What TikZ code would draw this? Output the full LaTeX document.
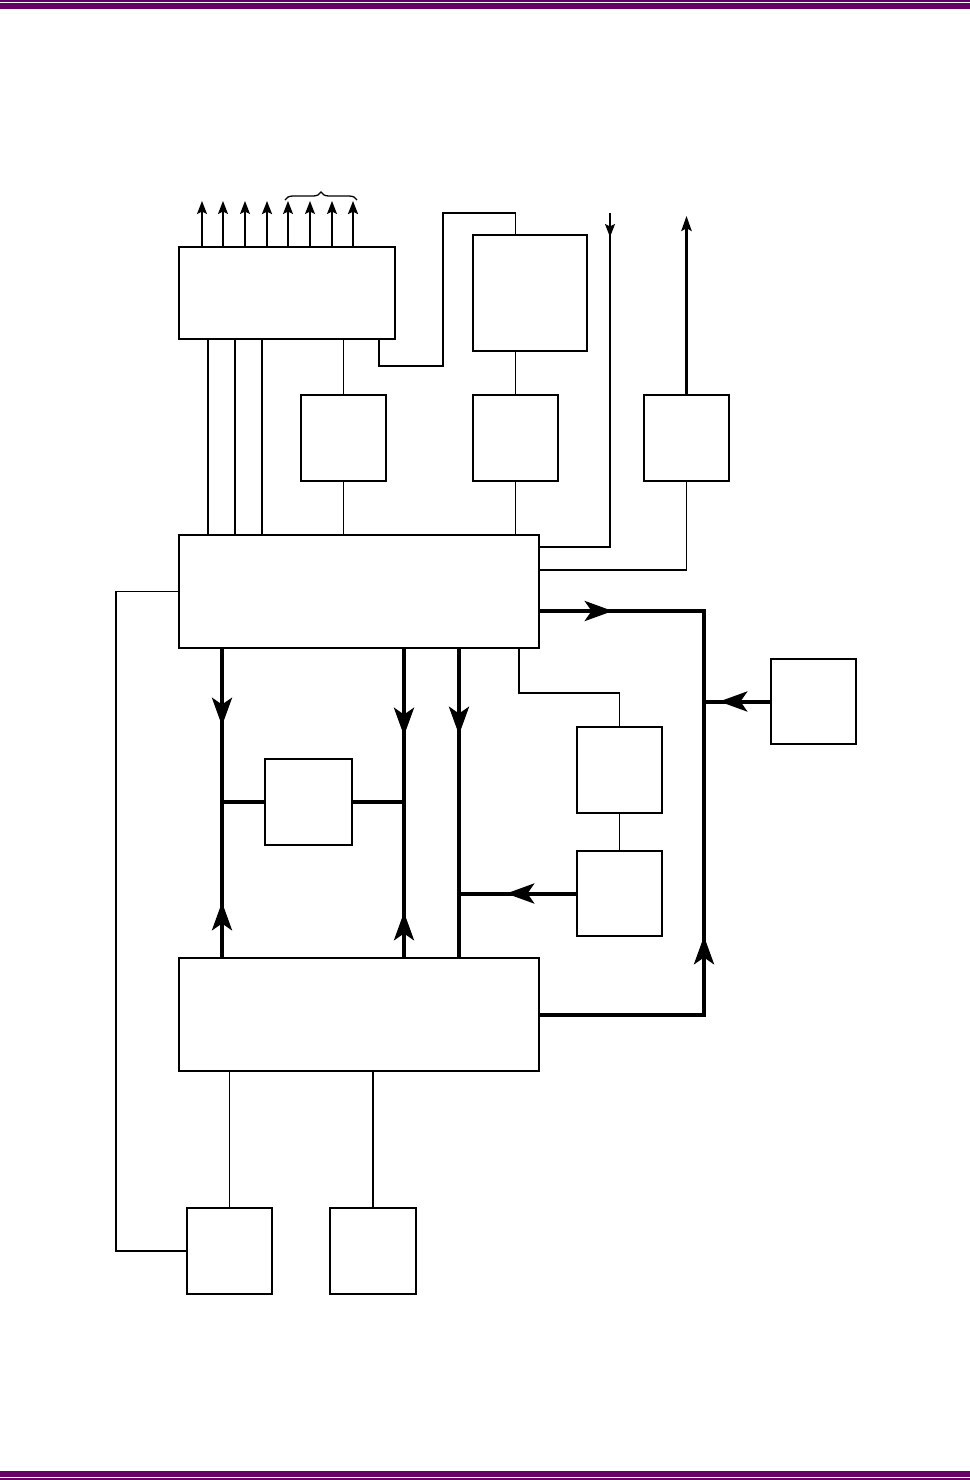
\documentclass[tikz,border=0pt]{standalone}
\usetikzlibrary{arrows.meta,decorations.markings,decorations.pathreplacing}
\definecolor{rulepurple}{RGB}{102,0,102}
\tikzset{
  sigtip/.tip={Stealth[length=6.5pt,width=5pt,inset=1.2pt]},
  bigtip/.tip={Stealth[length=7.5pt,width=5.2pt,inset=1.4pt]},
  bustip/.tip={Stealth[length=14pt,width=10pt,inset=3.4pt]}
}
\begin{document}
\begin{tikzpicture}[x=0.5pt,y=-0.5pt,
  blk/.style={draw,line width=0.75pt,inner sep=0pt},
  sig/.style={line width=0.65pt},
  bus/.style={line width=2pt},
  busarrow/.style={postaction={decorate},decoration={markings,mark=at position #1 with {\arrow{bustip}}}},
  sigarrow/.style={postaction={decorate},decoration={markings,mark=at position #1 with {\arrow{sigtip}}}}]
  \useasboundingbox (0,0) rectangle (970,1480);
  \fill[rulepurple] (0,0.3) rectangle (970,1.8); \fill[rulepurple] (0,3.3) rectangle (970,8.7);
  \fill[rulepurple] (0,1471) rectangle (970,1476.7); \fill[rulepurple] (0,1478) rectangle (970,1480);
  \node[blk,minimum width=108pt,minimum height=46pt] (A) at (287,293) {};
  \node[blk,minimum width=57pt,minimum height=58pt] (E) at (530,293) {};
  \node[blk,minimum width=42.5pt,minimum height=43pt] (C) at (343.5,438) {};
  \node[blk,minimum width=42.5pt,minimum height=43pt] (D) at (515.5,438) {};
  \node[blk,minimum width=42.5pt,minimum height=43pt] (F) at (686.5,438) {};
  \node[blk,minimum width=180pt,minimum height=56.5pt] (B) at (359,591.5) {};
  \node[blk,minimum width=42.5pt,minimum height=42.5pt] (G) at (813.5,701.5) {};
  \node[blk,minimum width=42.5pt,minimum height=43pt] (H) at (619.5,770) {};
  \node[blk,minimum width=42.5pt,minimum height=42.5pt] (K) at (619.5,893.5) {};
  \node[blk,minimum width=43.5pt,minimum height=43pt] (I) at (308.5,802) {};
  \node[blk,minimum width=180pt,minimum height=56.5pt] (J) at (359,1014.5) {};
  \node[blk,minimum width=42.5pt,minimum height=43pt] (L) at (229.5,1251) {};
  \node[blk,minimum width=43pt,minimum height=43pt] (M) at (373,1251) {};
  \foreach \x/\w [count=\i] in {202/0.7,223/0.7,245/0.7,267/1.1,288/0.7,310/0.7,332/0.7,353/1.1} {
    \coordinate (o\i) at (\x,201);
    \draw[line width=\w pt,-sigtip] (A.north -| o\i) -- (o\i);
  }
  \coordinate (br1) at (285,200); \coordinate (br2) at (357,200);
  \draw[sig,decorate,decoration={brace,amplitude=4pt}] (br1) -- (br2);
  \foreach \x [count=\i] in {208,235,262} {
    \coordinate (v\i) at (\x,0);
    \draw[sig] (A.south -| v\i) -- (B.north -| v\i);
  }
  \draw[sig] (C.north |- A.south) -- (C.north);
  \draw[sig] (C.south) -- (C.south |- B.north);
  \coordinate (ae1) at (379,366); \coordinate (ae2) at (443,213);
  \draw[sig] (A.south -| ae1) -- (ae1) -| (ae2) -| (E.north -| D.north);
  \draw[sig] (E.south -| D.north) -- (D.north);
  \draw[sig] (D.south) -- (D.south |- B.north);
  \coordinate (inB) at (610,213); \coordinate (r1) at (610,547);
  \draw[sig,sigarrow=12pt] (inB) -- (r1) -- (B.east |- r1);
  \coordinate (outF) at (686.5,216); \coordinate (r2) at (0,570);
  \draw[line width=1.1pt,-bigtip] (F.north) -- (outF);
  \draw[sig] (F.south) |- (B.east |- r2);
  \coordinate (lft) at (116,0);
  \draw[sig] (B.west) -- (B.west -| lft) |- (L.west);
  \draw[sig] (L.north |- J.south) -- (L.north);
  \draw[sig] (M.north |- J.south) -- (M.north);
  \coordinate (bh) at (519,693);
  \draw[sig] (B.south -| bh) -- (bh) -| (H.north);
  \draw[sig] (H.south) -- (K.north);
  \coordinate (ba) at (222,0); \coordinate (bb) at (404,0);
  \coordinate (bc) at (459,0); \coordinate (bd) at (704,0); \coordinate (r3) at (0,611);
  \draw[bus,busarrow=38.5pt] (B.south -| ba) -- (I.west -| ba);
  \draw[bus,busarrow=27.5pt] (J.north -| ba) -- (I.west -| ba);
  \draw[bus] (I.west -| ba) -- (I.west);
  \draw[bus,busarrow=43.5pt] (B.south -| bb) -- (I.east -| bb);
  \draw[bus,busarrow=22.5pt] (J.north -| bb) -- (I.east -| bb);
  \draw[bus] (I.east) -- (I.east -| bb);
  \draw[bus,busarrow=43pt] (B.south -| bc) -- (J.north -| bc);
  \draw[bus,busarrow=35pt] (K.west) -- (K.west -| bc);
  \draw[bus,busarrow=36.5pt] (B.east |- r3) -- (r3 -| bd) -- (G.west -| bd);
  \draw[bus,busarrow=121.25pt] (J.east) -| (G.west -| bd);
  \draw[bus,busarrow=25.5pt] (G.west) -- (G.west -| bd);
\end{tikzpicture}
\end{document}
